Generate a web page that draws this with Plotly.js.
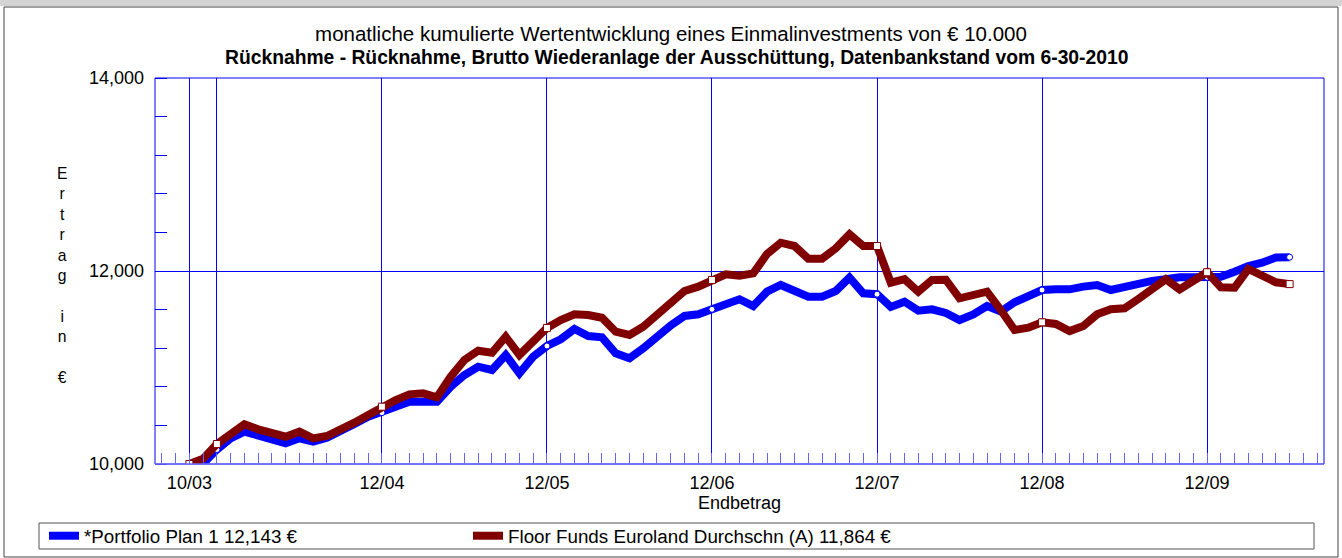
<!DOCTYPE html>
<html>
<head>
<meta charset="utf-8">
<script src="https://cdn.plot.ly/plotly-3.0.1.min.js"></script>
<style>
html,body{margin:0;padding:0;background:#fff;}
#chart{width:1342px;height:558px;}
</style>
</head>
<body>
<div id="chart"></div>
<script>
// ---- data ----
const startYear = 2003, startMonth = 10, nMonths = 81;
const monthLabels = [];
for (let i = 0; i < nMonths; i++) {
  const m = (startMonth - 1 + i) % 12 + 1;
  const y = startYear + Math.floor((startMonth - 1 + i) / 12);
  monthLabels.push(String(m).padStart(2, '0') + '/' + String(y % 100).padStart(2, '0'));
}

const portfolioName = '*Portfolio Plan 1';
const portfolioValues = [
  10000, 10005, 10150, 10266, 10335, 10300, 10256, 10214, 10266, 10231,
  10273, 10335, 10414, 10490, 10532, 10594, 10646, 10653, 10646, 10801,
  10922, 11008, 10974, 11130, 10940, 11112, 11223, 11292, 11399, 11326,
  11313, 11147, 11095, 11199, 11330, 11437, 11534, 11551, 11603, 11648,
  11707, 11637, 11786, 11855, 11797, 11734, 11734, 11793, 11931, 11769,
  11760, 11628, 11682, 11589, 11603, 11565, 11492, 11551, 11637, 11580,
  11676, 11741, 11803, 11810, 11810, 11838, 11855, 11803, 11838, 11872,
  11897, 11914, 11935, 11935, 11935, 11941, 11993, 12052, 12086, 12140,
  12143
];

const floorName = 'Floor Funds Euroland Durchschn (A)';
const floorValues = [
  10000, 10055, 10207, 10318, 10411, 10359, 10318, 10283, 10335, 10266,
  10290, 10352, 10428, 10508, 10594, 10663, 10722, 10732, 10691, 10905,
  11078, 11174, 11153, 11319, 11130, 11267, 11410, 11492, 11551, 11544,
  11516, 11371, 11337, 11423, 11554, 11658, 11793, 11838, 11907, 11965,
  11952, 11976, 12176, 12293, 12259, 12127, 12127, 12235, 12380, 12259,
  12259, 11879, 11915, 11786, 11907, 11910, 11717, 11741, 11786, 11596,
  11389, 11413, 11468, 11451, 11378, 11430, 11551, 11603, 11613, 11710,
  11820, 11914, 11810, 11890, 11987, 11831, 11827, 12021, 11959, 11883,
  11864
];

const yTickVals = [10000, 12000, 14000];
const titleText = 'monatliche kumulierte Wertentwicklung eines Einmalinvestments von € 10.000';
const subtitleText = 'Rücknahme - Rücknahme, Brutto Wiederanlage der Ausschüttung, Datenbankstand vom 6-30-2010';
const xTitleText = 'Endbetrag';
const yTitleLetters = ['E', 'r', 't', 'r', 'a', 'g', '', 'i', 'n', '', '€'];

// ---- derived ----
const xIdx = monthLabels.map((_, i) => i);
const gridIdx = [0].concat(xIdx.filter(i => monthLabels[i].startsWith('12/')));
const gridText = gridIdx.map((i, k) => (k === 1 ? '' : monthLabels[i]));
const markIdx = gridIdx.concat([nMonths - 1]);
const fmt = v => v.toLocaleString('en-US');

const BLUE = '#0000ff', RED = '#800000';
const FONT = 'Liberation Sans, Arial, sans-serif';

// pixel -> paper helpers (plot area x 155..1324, y 78..464)
const L = 155, R = 18, T = 78, B = 94, W = 1342, H = 558;
const PW = W - L - R, PH = H - T - B;
const px = x => (x - L) / PW;
const py = y => (H - B - y) / PH;

const traces = [
  {x: xIdx, y: portfolioValues, type: 'scatter', mode: 'lines',
   name: portfolioName + ' ' + fmt(portfolioValues[nMonths - 1]) + ' €',
   line: {color: BLUE, width: 8}, hoverinfo: 'skip'},
  {x: markIdx, y: markIdx.map(i => portfolioValues[i]), type: 'scatter', mode: 'markers',
   showlegend: false, hoverinfo: 'skip',
   marker: {symbol: 'circle', size: 6, color: '#ffffff', line: {color: BLUE, width: 1}}},
  {x: xIdx, y: floorValues, type: 'scatter', mode: 'lines',
   name: floorName + ' ' + fmt(floorValues[nMonths - 1]) + ' €',
   line: {color: RED, width: 8}, hoverinfo: 'skip'},
  {x: markIdx, y: markIdx.map(i => floorValues[i]), type: 'scatter', mode: 'markers',
   showlegend: false, hoverinfo: 'skip',
   marker: {symbol: 'square', size: 7, color: '#ffffff', line: {color: RED, width: 1}}}
];

const layout = {
  width: W, height: H,
  margin: {l: L, r: R, t: T, b: B, pad: 0, autoexpand: false},
  paper_bgcolor: '#ffffff', plot_bgcolor: '#ffffff',
  font: {family: FONT, size: 18, color: '#000'},
  showlegend: true,
  title: {text: titleText, font: {family: FONT, size: 20.5, color: '#000'},
          x: 0.5, xref: 'container', xanchor: 'center',
          y: 1 - 34 / H, yref: 'container', yanchor: 'middle', automargin: false},
  xaxis: {
    range: [-2.5, 82.5], tickmode: 'array', tickvals: gridIdx, ticktext: gridText,
    showgrid: true, gridcolor: BLUE, gridwidth: 1, zeroline: false, showline: false,
    ticks: '', ticklabelstandoff: 6, tickfont: {size: 18, color: '#000'},
    minor: {tickmode: 'linear', tick0: 0, dtick: 1, ticks: 'inside', ticklen: 11,
            tickcolor: '#6666ff', tickwidth: 1, showgrid: false},
    title: {text: xTitleText, font: {size: 18, color: '#000'}, standoff: 2},
    automargin: false, fixedrange: true
  },
  yaxis: {
    range: [10000, 14000], tickmode: 'array', tickvals: yTickVals,
    ticktext: yTickVals.map(fmt),
    showgrid: true, gridcolor: BLUE, gridwidth: 1, zeroline: false, showline: false,
    ticks: '', ticklabelstandoff: 10, tickfont: {size: 18, color: '#000'},
    minor: {tickmode: 'linear', tick0: 10000, dtick: 400, ticks: 'inside', ticklen: 12,
            tickcolor: BLUE, tickwidth: 1, showgrid: false},
    automargin: false, fixedrange: true
  },
  legend: {
    orientation: 'h', x: px(44), xanchor: 'left', y: py(517), yanchor: 'top',
    bgcolor: 'rgba(0,0,0,0)', borderwidth: 0,
    font: {family: FONT, size: 18.8, color: '#000'},
    entrywidth: 379, entrywidthmode: 'pixels', itemwidth: 30
  },
  annotations: [
    {text: '<b>' + subtitleText + '</b>', xref: 'paper', yref: 'paper',
     x: px(676), y: py(57), xanchor: 'center', yanchor: 'middle', showarrow: false,
     font: {family: FONT, size: 19.3, color: '#000'}},
    {text: yTitleLetters.join('<br>'),
     xref: 'paper', yref: 'paper', x: px(62), y: py(275), xanchor: 'center', yanchor: 'middle',
     showarrow: false, align: 'center', font: {family: FONT, size: 15.7, color: '#000'}}
  ],
  shapes: [
    {type: 'rect', xref: 'paper', yref: 'paper', x0: 0, x1: 1, y0: 0, y1: 1,
     line: {color: BLUE, width: 1}, layer: 'below'},
    {type: 'line', xref: 'paper', yref: 'paper', x0: 0, x1: 1, y0: 0, y1: 0,
     line: {color: '#6f6fff', width: 1.5}, layer: 'above'},
    {type: 'rect', xref: 'paper', yref: 'paper', x0: px(39), x1: px(1314), y0: py(549), y1: py(523),
     line: {color: '#555555', width: 1}, layer: 'below'},
    {type: 'rect', xref: 'paper', yref: 'paper', x0: px(0), x1: px(1342), y0: py(6), y1: py(0),
     fillcolor: '#d4d4d4', line: {width: 0}, layer: 'below'},
    {type: 'rect', xref: 'paper', yref: 'paper', x0: px(4), x1: px(1338), y0: py(557), y1: py(7),
     line: {color: '#444444', width: 1}, layer: 'below'}
  ]
};

Plotly.newPlot('chart', traces, layout, {displayModeBar: false, staticPlot: true});
</script>
</body>
</html>
